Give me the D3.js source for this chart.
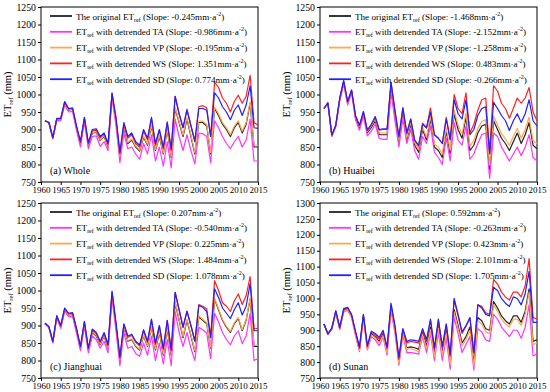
<!DOCTYPE html>
<html>
<head>
<meta charset="utf-8">
<script src="https://cdn.jsdelivr.net/npm/d3@7/dist/d3.min.js"></script>
<style>
  body { margin: 0; background: #fff; }
  svg text { font-family: "Liberation Serif", "DejaVu Serif", serif; fill: #000; }
</style>
</head>
<body>
<div id="chart"></div>
<script>
// Years
const years = d3.range(1961, 2016);

// Panel (a) Whole
const wholeOrig = [925,920,875,930,928,975,955,958,905,860, 930,855,890,892,868,880,850,1000,925,820, 905,860,870,850,838,878,855,910,840,880, 830,900,820,960,920,880,930,880,830,920, 920,910,830,960,940,915,900,880,905,920, 890,915,975,850,850];
const wholeTA = [925,920,873,926,925,970,950,952,898,850, 922,845,880,882,852,865,840,990,912,805, 890,845,850,830,815,860,830,885,810,850, 795,865,790,930,880,840,885,840,802,890, 888,880,805,925,905,880,860,845,865,880, 850,870,930,810,810];
const wholeVP = [925,920,875,930,928,976,956,959,906,861, 931,856,891,893,870,882,852,1002,927,823, 908,863,873,853,841,881,858,913,843,883, 833,903,823,963,923,884,934,884,834,924, 924,914,834,964,945,920,905,885,910,925, 895,920,980,855,855];
const wholeWS = [925,920,876,931,930,978,958,960,907,862, 932,858,896,898,876,886,856,1002,930,830, 915,875,885,860,850,895,870,932,855,898, 845,922,840,995,945,905,958,912,868,965, 968,962,880,1035,1020,990,975,950,980,998, 975,995,1055,920,912];
const wholeSD = [925,920,877,932,932,980,960,962,910,866, 935,862,900,902,880,890,860,1005,935,835, 920,880,890,865,855,900,875,935,860,900, 850,920,845,995,945,905,955,910,865,960, 960,955,880,1005,990,965,950,928,955,970, 940,970,1025,905,903];

// Panel (b) Huaibei
const huaibeiOrig = [960,975,882,910,985,1035,975,1010,935,905, 945,890,905,925,885,885,885,1025,940,865, 950,870,915,855,835,900,870,930,850,840, 820,895,830,945,900,875,935,840,855,890, 910,915,785,925,900,875,860,840,865,890, 860,885,920,855,845];
const huaibeiTA = [960,975,880,908,982,1030,970,1005,928,898, 938,882,895,915,875,872,872,1005,925,850, 930,860,900,840,815,880,860,910,835,820, 800,875,810,920,870,855,910,815,830,860, 885,890,760,890,880,850,830,810,830,850, 825,850,885,820,810];
const huaibeiVP = [960,975,883,911,987,1037,977,1012,938,908, 948,894,910,930,890,890,890,1030,945,870, 955,876,921,862,842,907,878,938,858,850, 830,905,840,955,912,887,947,852,868,903, 923,928,798,938,913,888,873,855,880,903, 875,900,935,868,860];
const huaibeiWS = [960,976,884,912,988,1038,978,1012,938,910, 950,896,913,935,898,900,900,1035,952,878, 962,888,930,868,852,918,905,962,885,875, 860,935,872,1000,960,945,1005,890,915,955, 985,990,835,1025,1010,975,960,932,960,990, 975,990,1020,950,925];
const huaibeiSD = [960,976,884,913,990,1040,980,1013,940,912, 952,898,915,937,900,902,902,1035,955,880, 962,890,930,870,855,915,905,950,885,875, 860,930,870,985,945,930,985,885,900,940, 960,965,830,978,960,940,925,897,925,945, 920,945,985,925,910];

// Panel (c) Jianghuai
const jhOrig = [905,895,852,925,895,945,930,932,885,835, 905,830,880,870,845,870,835,990,900,800, 895,855,860,840,830,870,840,895,830,880, 815,890,815,965,915,865,915,870,825,925, 915,905,835,975,945,915,895,880,905,920, 885,915,975,840,840];
const jhTA = [905,895,850,922,892,940,925,926,878,828, 898,822,870,860,835,855,822,978,885,785, 880,835,840,820,812,850,815,870,800,850, 790,860,785,940,880,840,880,835,800,895, 888,878,805,935,910,880,860,845,870,885, 848,870,935,800,805];
const jhVP = [905,895,853,926,896,946,931,933,887,837, 907,832,882,872,847,872,837,992,902,802, 897,857,862,842,832,872,842,897,833,883, 818,893,818,968,918,868,918,873,828,928, 918,908,838,978,948,918,898,883,908,923, 888,918,978,843,843];
const jhWS = [906,896,854,927,898,948,933,935,890,838, 910,833,887,877,852,877,842,995,905,806, 902,866,872,852,842,885,852,915,846,898, 832,915,828,995,945,895,942,900,855,960, 955,948,870,1028,1000,965,955,940,970,990, 960,985,1040,890,892];
const jhSD = [907,897,855,928,900,950,935,937,892,840, 912,835,890,880,855,880,845,998,910,810, 905,870,875,855,845,888,855,918,850,900, 835,915,830,995,945,895,940,900,855,957, 952,940,865,1005,980,950,935,920,945,965, 930,955,1020,885,885];

// Panel (d) Sunan
const sunanOrig = [920,888,905,958,905,962,968,945,890,840, 945,845,890,880,865,890,835,975,905,800, 900,845,848,845,840,895,850,910,825,915, 830,900,800,965,915,860,880,910,795,940, 930,905,900,990,970,945,930,920,945,945, 925,960,1030,865,870];
const sunanTA = [920,888,903,955,902,958,962,940,884,833, 938,838,880,870,852,878,822,962,892,790, 885,830,830,828,825,880,830,890,805,895, 805,875,778,940,890,830,855,880,775,905, 895,870,865,950,935,910,895,880,900,900, 875,910,980,820,825];
const sunanVP = [920,888,904,957,904,960,965,942,887,836, 942,841,886,876,860,884,829,970,898,795, 895,840,842,838,833,887,842,902,817,907, 822,892,792,957,906,852,870,900,786,930, 920,895,890,980,960,935,920,910,935,935, 915,950,1020,855,860];
const sunanWS = [920,888,906,960,907,965,970,948,894,843, 948,848,893,886,872,895,842,980,910,808, 903,860,865,863,860,900,865,930,840,930, 845,918,820,995,945,890,912,938,828,980, 975,955,950,1060,1045,1020,1005,995,1020,1020, 1005,1040,1125,940,935];
const sunanSD = [920,889,907,962,910,968,972,950,897,848, 950,852,897,890,878,900,848,985,915,815, 905,865,870,868,865,905,870,935,845,935, 850,920,825,1000,950,895,915,940,830,980, 970,950,945,1035,1025,1000,985,975,1005,1000, 980,1015,1085,925,925];

// Legend slopes
const slopesA = ["-0.245", "-0.986", "-0.195", "1.351", "0.774"];
const slopesB = ["-1.468", "-2.152", "-1.258", "0.483", "-0.266"];
const slopesC = ["0.207", "-0.540", "0.225", "1.484", "1.078"];
const slopesD = ["0.592", "-0.263", "0.423", "2.101", "1.705"];

const xTicks = d3.range(1960, 2016, 5);
const seriesNames = ["orig", "TA", "VP", "WS", "SD"];
const colors = { orig: "#222222", TA: "#ff33ff", VP: "#ffa64d", WS: "#ff2020", SD: "#2020ff" };
const drawOrder = ["orig", "TA", "VP", "WS", "SD"];

const panels = [
  { label: "(a) Whole", x: 41, y: 7, yMax: 1250, slopes: slopesA,
    data: { orig: wholeOrig, TA: wholeTA, VP: wholeVP, WS: wholeWS, SD: wholeSD } },
  { label: "(b) Huaibei", x: 320, y: 7, yMax: 1250, slopes: slopesB,
    data: { orig: huaibeiOrig, TA: huaibeiTA, VP: huaibeiVP, WS: huaibeiWS, SD: huaibeiSD } },
  { label: "(c) Jianghuai", x: 41, y: 203, yMax: 1250, slopes: slopesC,
    data: { orig: jhOrig, TA: jhTA, VP: jhVP, WS: jhWS, SD: jhSD } },
  { label: "(d) Sunan", x: 320, y: 203, yMax: 1300, slopes: slopesD,
    data: { orig: sunanOrig, TA: sunanTA, VP: sunanVP, WS: sunanWS, SD: sunanSD } }
];

const W = 217, H = 175;

const svg = d3.select("#chart").append("svg")
  .attr("width", 550).attr("height", 392);

panels.forEach(p => {
  const g = svg.append("g").attr("transform", `translate(${p.x},${p.y})`);

  const x = d3.scaleLinear().domain([1960, 2015]).range([0, W]);
  const y = d3.scaleLinear().domain([750, p.yMax]).range([H, 0]);

  // axes
  g.append("g").attr("transform", `translate(0,${H})`)
    .call(d3.axisBottom(x).tickValues(xTicks).tickFormat(d3.format("d")).tickSize(3).tickPadding(2))
    .call(a => a.select(".domain").remove())
    .call(a => a.selectAll("text").attr("font-size", 9).attr("font-family", "Liberation Serif"));

  g.append("g")
    .call(d3.axisLeft(y).tickValues(d3.range(750, p.yMax + 1, 50)).tickFormat(d3.format("d")).tickSize(3).tickPadding(2))
    .call(a => a.select(".domain").remove())
    .call(a => a.selectAll("text").attr("font-size", 9.8).attr("font-family", "Liberation Serif"));

  g.append("rect").attr("width", W).attr("height", H)
    .attr("fill", "none").attr("stroke", "#000").attr("stroke-width", 1);

  // y label
  const yl = g.append("text")
    .attr("transform", `translate(${-30},${H / 2}) rotate(-90)`)
    .attr("text-anchor", "middle").attr("font-size", 10.5);
  yl.append("tspan").text("ET");
  yl.append("tspan").attr("font-size", 6.5).attr("dy", 2).text("ref");
  yl.append("tspan").attr("dy", -2).text(" (mm)");

  // lines
  const line = d3.line().x((d, i) => x(years[i])).y(d => y(d));
  drawOrder.forEach(s => {
    g.append("path").datum(p.data[s])
      .attr("d", line)
      .attr("fill", "none")
      .attr("stroke", colors[s])
      .attr("stroke-width", 1.2)
      .attr("stroke-linejoin", "round");
  });

  // legend
  const lg = g.append("g").attr("transform", "translate(9,9)");
  const labels = ["TA", "VP", "WS", "SD"];
  seriesNames.forEach((s, i) => {
    const row = lg.append("g").attr("transform", `translate(0,${i * 15.8})`);
    row.append("line").attr("x1", 0).attr("x2", 22).attr("y1", 0).attr("y2", 0)
      .attr("stroke", colors[s]).attr("stroke-width", 1.8);
    const t = row.append("text").attr("x", 26).attr("y", 3.5).attr("font-size", 9.1);
    if (i === 0) {
      t.append("tspan").text("The original ET");
      t.append("tspan").attr("font-size", 6).attr("dy", 2).text("ref");
      t.append("tspan").attr("dy", -2).text(` (Slope: ${p.slopes[i]}mm·a`);
    } else {
      t.append("tspan").text("ET");
      t.append("tspan").attr("font-size", 6).attr("dy", 2).text("ref");
      t.append("tspan").attr("dy", -2).text(` with detrended ${labels[i - 1]} (Slope: ${p.slopes[i]}mm·a`);
    }
    t.append("tspan").attr("font-size", 6).attr("dy", -4).text("-2");
    t.append("tspan").attr("dy", 4).text(")");
  });

  // panel label
  g.append("text").attr("x", 9).attr("y", H - 8).attr("font-size", 10).text(p.label);
});
</script>
</body>
</html>
